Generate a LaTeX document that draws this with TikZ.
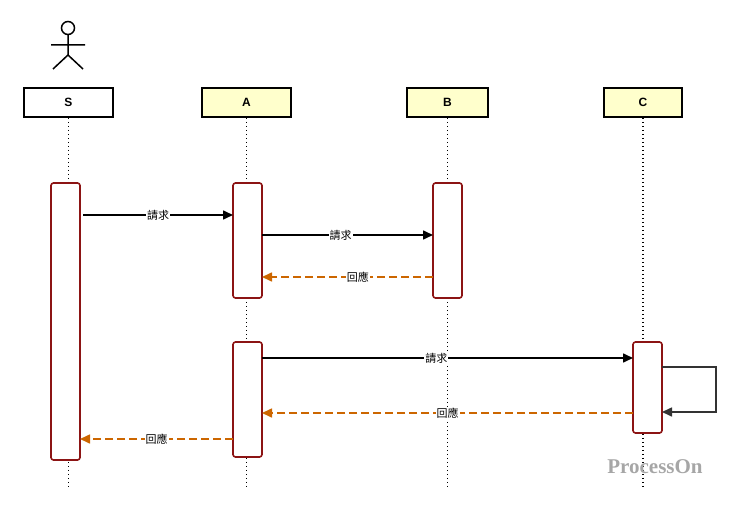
\documentclass[tikz,border=0pt]{standalone}
\usepackage{fontspec}
\setmainfont{Liberation Sans}
\newfontfamily\cjk{Noto Sans CJK TC}
\usetikzlibrary{arrows.meta}
\definecolor{actbox}{RGB}{255,255,204}
\definecolor{actred}{RGB}{140,20,20}
\definecolor{retorange}{RGB}{204,102,0}
\begin{document}
\begin{tikzpicture}[x=1pt,y=-1pt]
    \tikzstyle{obj}=[draw=black,line width=1.6pt,minimum height=29pt,inner sep=0pt,font=\fontsize{12}{14}\selectfont\bfseries]
    \tikzstyle{life}=[draw=black,line width=1.6pt,dash pattern=on 1.6pt off 2.4pt]
    \tikzstyle{act}=[draw=actred,line width=1.6pt,fill=white,rounded corners=2.5pt]
    \tikzstyle{call}=[-{Triangle[length=10pt,width=9pt]},line width=1.6pt,black]
    \tikzstyle{ret}=[-{Triangle[length=10pt,width=9pt]},line width=1.6pt,retorange,dash pattern=on 8pt off 4pt]
    \tikzstyle{lbl}=[fill=white,inner sep=1pt,text=black,font=\cjk\fontsize{11}{13}\selectfont]
    \useasboundingbox (0,0) rectangle (740,511);

    % Actor
    \draw[line width=1.5pt] (68,28) circle (6.5);
    \draw[line width=1.5pt] (68,34.5) -- (68,55) (51,45) -- (85,45)
        (68,55) -- (53,69) (68,55) -- (83,69);

    % Objects
    \node[obj,minimum width=89pt,fill=white] (S) at (68.5,102.5) {S};
    \node[obj,minimum width=89pt,fill=actbox] (A) at (246.5,102.5) {A};
    \node[obj,minimum width=81pt,fill=actbox] (B) at (447.5,102.5) {B};
    \node[obj,minimum width=78pt,fill=actbox] (C) at (643,102.5) {C};

    % Lifelines
    \foreach \name in {S,A,B,C}
        \draw[life] (\name.south) -- (\name.south |- 0,487);

    % Activations
    \draw[act] (51,183) rectangle (80,460);
    \draw[act] (233,183) rectangle (262,298);
    \draw[act] (433,183) rectangle (462,298);
    \draw[act] (233,342) rectangle (262,457);
    \draw[act] (633,342) rectangle (662,433);

    \coordinate (s1) at (83,215);   \coordinate (a1) at (233,215);
    \coordinate (a2) at (262,235);  \coordinate (b2) at (433,235);
    \coordinate (b3) at (433,277);  \coordinate (a3) at (262,277);
    \coordinate (a4) at (262,358);  \coordinate (c4) at (633,358);
    \coordinate (c5) at (662,367);  \coordinate (c6) at (662,412);
    \coordinate (c7) at (633,413);  \coordinate (a7) at (262,413);
    \coordinate (a8) at (233,439);  \coordinate (s8) at (80,439);

    % Messages
    \draw[call] (s1) -- node[lbl] {請求} (a1);
    \draw[call] (a2) -- node[lbl,pos=0.46] {請求} (b2);
    \draw[ret] (b3) -- node[lbl,pos=0.44] {回應} (a3);
    \draw[call] (a4) -- node[lbl,pos=0.47] {請求} (c4);
    \draw[call,draw=black!80,-{Triangle[length=10pt,width=9pt,fill=black!80]}] (c5) -- (716,367) -- (716,412) -- (c6);
    \draw[ret] (c7) -- node[lbl,pos=0.5] {回應} (a7);
    \draw[ret] (a8) -- node[lbl,pos=0.5] {回應} (s8);

    % Watermark
    \node[font=\fontspec{Liberation Serif}\fontsize{21}{24}\selectfont\bfseries,text=black!35] (wm) at (655,467) {ProcessOn};
\end{tikzpicture}
\end{document}
